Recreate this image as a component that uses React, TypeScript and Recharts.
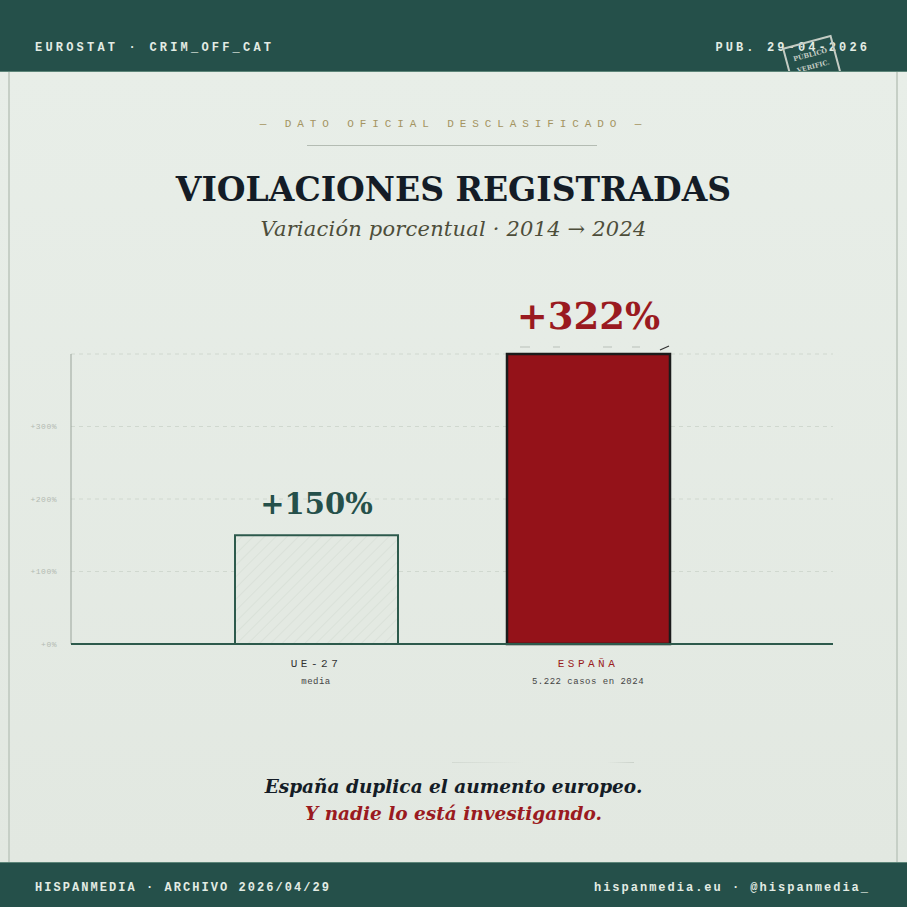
import React from 'react';
import { BarChart, Bar, XAxis, YAxis, CartesianGrid, LabelList } from 'recharts';

// ---- Datos ----
const categorias = ['UE-27', 'ESPAÑA'];
const subtitulos = ['media', '5.222 casos en 2024'];
const variacion = [150, 322]; // etiqueta mostrada (%)
const alturaDibujada = [150, 400]; // altura a la que el original dibuja cada barra
const ticksY = [0, 100, 200, 300, 400];
const etiquetasY = ['+0%', '+100%', '+200%', '+300%', ''];

const data = categorias.map((c, i) => ({
  cat: c,
  sub: subtitulos[i],
  valor: variacion[i],
  altura: alturaDibujada[i],
}));

const VERDE = '#25504a';
const ROJO = '#941219';
const MONO = '"Liberation Mono", "DejaVu Sans Mono", monospace';
const SERIF = '"DejaVu Serif", Georgia, serif';

const BarShape = (props: any) => {
  const { x, y, width, height, index } = props;
  if (index === 0) {
    return (
      <g>
        <rect x={x} y={y} width={width} height={height} fill="url(#rayado)" stroke="#2d5a4c" strokeWidth={2} />
      </g>
    );
  }
  return (
    <g>
      <rect x={x} y={y} width={width} height={height} fill={ROJO} stroke="#1b1b1b" strokeWidth={2.5} />
      <g stroke="#b9c0b9" strokeWidth={1}>
        <line x1={x + 13} y1={y - 7} x2={x + 23} y2={y - 7} />
        <line x1={x + 46} y1={y - 7} x2={x + 53} y2={y - 7} />
        <line x1={x + 96} y1={y - 7} x2={x + 105} y2={y - 7} />
        <line x1={x + 125} y1={y - 7} x2={x + 133} y2={y - 7} />
      </g>
      <line x1={x + width - 10} y1={y - 4} x2={x + width - 1} y2={y - 8} stroke="#333" strokeWidth={1.2} />
    </g>
  );
};

const BarLabel = (props: any) => {
  const { x, y, width, index, value } = props;
  const big = index === 1;
  return (
    <text
      x={x + width / 2}
      y={y - (big ? 25 : 21)}
      textAnchor="middle"
      fontFamily={SERIF}
      fontWeight="bold"
      fontSize={big ? 37 : 29}
      fill={big ? '#9a1a20' : VERDE}
    >
      {'+' + value + '%'}
    </text>
  );
};

const XTick = (props: any) => {
  const { x, y, payload } = props;
  const i = categorias.indexOf(payload.value);
  const red = i === 1;
  return (
    <g>
      <text x={x} y={y + 15} textAnchor="middle" fontFamily={MONO} fontSize={11} letterSpacing={3.5} fill={red ? '#9a1a20' : '#333'}>
        {payload.value}
      </text>
      <text x={x} y={y + 32} textAnchor="middle" fontFamily={MONO} fontSize={9} letterSpacing={0.5} fill="#444">
        {subtitulos[i]}
      </text>
    </g>
  );
};

export default function App() {
  return (
    <div style={{ position: 'fixed', left: 0, top: 0, width: 907, height: 907, overflow: 'hidden', background: '#e5ebe4' }}>
      <svg width={0} height={0} style={{ position: 'absolute' }}>
        <defs>
          <pattern id="rayado" patternUnits="userSpaceOnUse" width={8} height={8} patternTransform="rotate(45)">
            <rect width={8} height={8} fill="#e3e9e2" />
            <line x1={0} y1={0} x2={0} y2={8} stroke="#d8dfd7" strokeWidth={1.6} />
          </pattern>
        </defs>
      </svg>

      {/* panel */}
      <div style={{ position: 'absolute', left: 0, top: 72, width: 907, height: 790, background: 'linear-gradient(180deg, #e8eee8 0%, #e2e8e1 100%)' }} />
      <div style={{ position: 'absolute', left: 8, top: 72, width: 1.5, height: 790, background: '#c6cfc6' }} />
      <div style={{ position: 'absolute', left: 896, top: 72, width: 1.5, height: 790, background: '#c6cfc6' }} />

      {/* header */}
      <div style={{ position: 'absolute', left: 0, top: 0, width: 907, height: 72, background: VERDE, overflow: 'hidden', borderBottom: '1px solid #5d8579', boxSizing: 'border-box' }}>
        <div style={{ position: 'absolute', left: 35, top: 41, fontFamily: MONO, fontWeight: 'bold', fontSize: 12, letterSpacing: 3.2, color: '#e3ece4', whiteSpace: 'nowrap' }}>
          EUROSTAT · CRIM_OFF_CAT
        </div>
        <div style={{ position: 'absolute', right: 37, top: 41, fontFamily: MONO, fontWeight: 'bold', fontSize: 12, letterSpacing: 3.1, color: '#e3ece4', whiteSpace: 'nowrap' }}>
          PUB. 29-04-2026
        </div>
        <div style={{ position: 'absolute', left: 782, top: 48, width: 51, height: 44, border: '2px solid #c4ccc4', transformOrigin: '0 0', transform: 'rotate(-15deg)', color: '#c4ccc4', fontFamily: SERIF, fontWeight: 'bold', fontSize: 6.5, textAlign: 'center', lineHeight: '12px', paddingTop: 6, boxSizing: 'border-box' }}>
          <div>PÚBLICO</div>
          <div>VERIFIC.</div>
        </div>
      </div>

      {/* titles */}
      <div style={{ position: 'absolute', left: 0, top: 118, width: 907, textAlign: 'center', fontFamily: MONO, fontSize: 11, letterSpacing: 5.9, color: '#a49461', whiteSpace: 'nowrap' }}>
        — DATO OFICIAL DESCLASIFICADO —
      </div>
      <div style={{ position: 'absolute', left: 307, top: 145, width: 290, height: 1, background: '#b4bcb3' }} />
      <div style={{ position: 'absolute', left: 0, top: 170, width: 907, textAlign: 'center', fontFamily: SERIF, fontWeight: 'bold', fontSize: 33, lineHeight: '40px', color: '#141c26', whiteSpace: 'nowrap' }}>
        VIOLACIONES REGISTRADAS
      </div>
      <div style={{ position: 'absolute', left: 0, top: 216, width: 907, textAlign: 'center', fontFamily: SERIF, fontStyle: 'italic', fontSize: 21, letterSpacing: 0.2, lineHeight: '26px', color: '#4d4d3a', whiteSpace: 'nowrap' }}>
        Variación porcentual · 2014 → 2024
      </div>

      {/* chart */}
      <div style={{ position: 'absolute', left: 0, top: 280 }}>
        <BarChart width={907} height={420} data={data} margin={{ top: 74, right: 74, left: 21, bottom: 6 }}>
          <CartesianGrid vertical={false} stroke="#d0d8cf" strokeDasharray="4 4" />
          <YAxis
            domain={[0, 400]}
            ticks={ticksY}
            width={50}
            tickLine={false}
            tickMargin={8}
            axisLine={{ stroke: '#9aa49b', strokeWidth: 1 }}
            tickFormatter={(v: number) => etiquetasY[ticksY.indexOf(v)]}
            tick={{ fontFamily: MONO, fontSize: 8, fill: '#b3bab2', letterSpacing: 0.5 }}
          />
          <XAxis
            dataKey="cat"
            height={50}
            padding={{ left: 109, right: 109 }}
            tickLine={false}
            axisLine={{ stroke: '#2d5a4c', strokeWidth: 1.8 }}
            tick={<XTick />}
            interval={0}
          />
          <Bar dataKey="altura" barSize={163} isAnimationActive={false} shape={<BarShape />}>
            <LabelList dataKey="valor" content={<BarLabel />} />
          </Bar>
        </BarChart>
      </div>

      {/* closing text */}
      <div style={{ position: 'absolute', left: 452, top: 762, width: 182, height: 1, background: 'linear-gradient(90deg, rgba(200,207,199,0.6), rgba(226,232,225,0) 40%, rgba(226,232,225,0) 85%, rgba(200,207,199,0.9))' }} />
      <div style={{ position: 'absolute', left: 0, top: 774, width: 907, textAlign: 'center', fontFamily: SERIF, fontStyle: 'italic', fontWeight: 'bold', fontSize: 18.5, lineHeight: '26px', color: '#141c26', whiteSpace: 'nowrap' }}>
        España duplica el aumento europeo.
      </div>
      <div style={{ position: 'absolute', left: 0, top: 801, width: 907, textAlign: 'center', fontFamily: SERIF, fontStyle: 'italic', fontWeight: 'bold', fontSize: 18.5, lineHeight: '26px', color: '#9a1a20', whiteSpace: 'nowrap' }}>
        Y nadie lo está investigando.
      </div>

      {/* footer */}
      <div style={{ position: 'absolute', left: 0, top: 862, width: 907, height: 45, background: VERDE, borderTop: '1px solid #5d8579', boxSizing: 'border-box' }}>
        <div style={{ position: 'absolute', left: 35, top: 18, fontFamily: MONO, fontWeight: 'bold', fontSize: 12, letterSpacing: 2.05, color: '#e3ece4', whiteSpace: 'nowrap' }}>
          HISPANMEDIA · ARCHIVO 2026/04/29
        </div>
        <div style={{ position: 'absolute', right: 37, top: 18, fontFamily: MONO, fontWeight: 'bold', fontSize: 12, letterSpacing: 2.0, color: '#e3ece4', whiteSpace: 'nowrap' }}>
          hispanmedia.eu · @hispanmedia_
        </div>
      </div>
    </div>
  );
}
